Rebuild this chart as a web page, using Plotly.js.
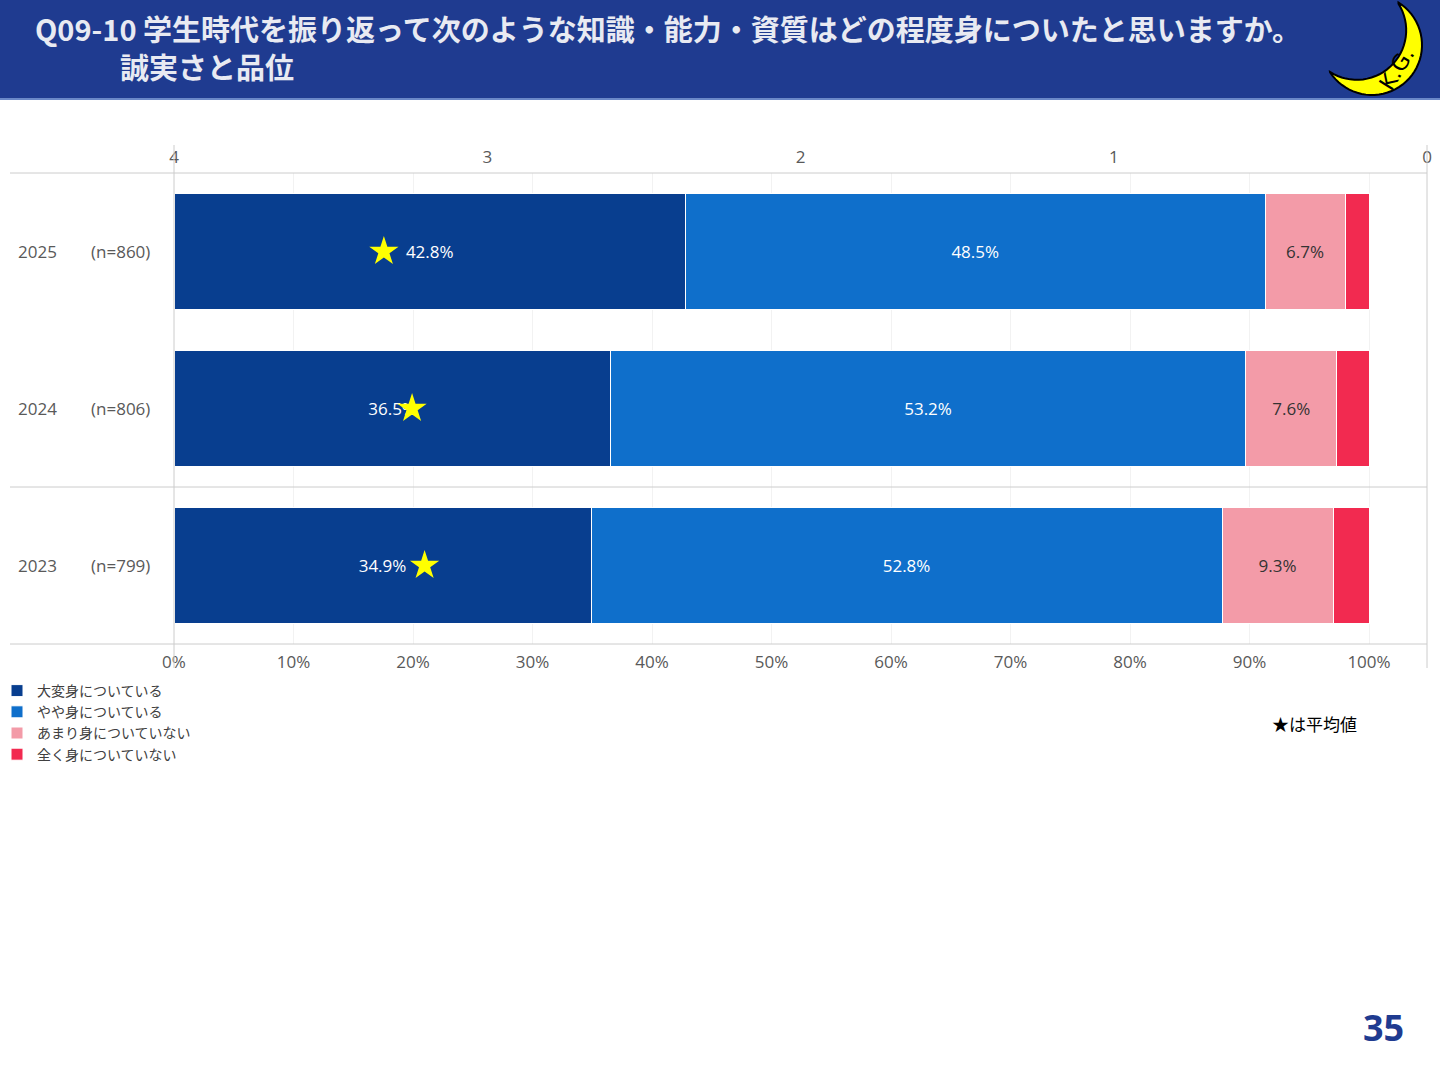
<!DOCTYPE html>
<html>
<head>
<meta charset="utf-8">
<script src="https://cdn.plot.ly/plotly-3.0.1.min.js"></script>
<style>
  html, body { margin: 0; padding: 0; background: #fff; }
  #chart { width: 1440px; height: 1080px; }
</style>
</head>
<body>
<div id="chart"></div>
<script>
// データ
const years = ['2025', '2024', '2023']
const sampleSizes = ['(n=860)', '(n=806)', '(n=799)']
const seriesNames = ['大変身についている', 'やや身についている', 'あまり身についていない', '全く身についていない']
const veryMuch = [42.8, 36.5, 34.9]
const somewhat = [48.5, 53.2, 52.8]
const notMuch = [6.7, 7.6, 9.3]
const notAtAll = [2.0, 2.7, 3.0]
const averages = [3.33, 3.24, 3.20]
const percentTicks = [0, 10, 20, 30, 40, 50, 60, 70, 80, 90, 100]
const percentLabels = percentTicks.map(v => v + '%')
const scoreTicks = [0, 1, 2, 3, 4]

const colors = ['#083e8f', '#0f6fcb', '#f39ba8', '#f22a50']
const textColors = ['#ffffff', '#ffffff', '#333333', '#ffffff']

// plot area in pixels (used only for decoration placement)
const plotL = 174, plotR = 1427, plotT = 173, plotB = 644
const px = x => (x - plotL) / (plotR - plotL)
const py = y => (plotB - y) / (plotB - plotT)

const fontFamily = 'Open Sans, Noto Sans CJK JP, sans-serif'
const jpFont = 'Noto Sans CJK JP, sans-serif'

let seriesValues = [veryMuch, somewhat, notMuch, notAtAll]

let traces = seriesValues.map((values, i) => ({
  type: 'bar',
  orientation: 'h',
  name: seriesNames[i],
  y: years,
  x: values,
  text: i < 3 ? values.map(v => v.toFixed(1) + '%') : values.map(() => ''),
  textposition: 'inside',
  insidetextanchor: 'middle',
  textangle: 0,
  constraintext: 'none',
  textfont: { color: textColors[i], size: 17, family: fontFamily },
  marker: { color: colors[i], line: { color: '#ffffff', width: 1 } },
  hoverinfo: 'skip'
}))

// 平均値の★
traces.push({
  type: 'scatter',
  mode: 'markers',
  x: averages,
  y: years,
  xaxis: 'x2',
  yaxis: 'y',
  marker: { symbol: 'star', size: 22, color: '#ffff00' },
  showlegend: false,
  hoverinfo: 'skip'
})

// 月のロゴ
function moonPath() {
  let pts = []
  for (let a = -58; a <= 147; a += 5) {
    let r = a * Math.PI / 180
    pts.push([1372 + 50 * Math.cos(r), 45 + 50 * Math.sin(r)])
  }
  for (let a = 122.6; a >= -33.5; a -= 5) {
    let r = a * Math.PI / 180
    pts.push([1356.7 + 49.5 * Math.cos(r), 30.3 + 49.5 * Math.sin(r)])
  }
  return pts.map((p, i) => (i === 0 ? 'M' : 'L') + px(p[0]).toFixed(5) + ',' + py(p[1]).toFixed(5)).join(' ') + ' Z'
}

let lineStyle = { color: '#cccccc', width: 1 }

let shapes = [
  // header band
  { type: 'rect', xref: 'paper', yref: 'paper', x0: px(0), x1: px(1440), y0: py(98), y1: py(0),
    fillcolor: '#1f3b90', line: { width: 0 }, layer: 'below' },
  { type: 'line', xref: 'paper', yref: 'paper', x0: px(0), x1: px(1440), y0: py(99), y1: py(99),
    line: { color: '#6a88c8', width: 2 } },
  { type: 'path', xref: 'paper', yref: 'paper', path: moonPath(),
    fillcolor: '#ffff00', line: { color: '#000000', width: 2 } },
  // table lines
  { type: 'line', xref: 'paper', yref: 'paper', x0: px(10), x1: 1, y0: 1, y1: 1, line: lineStyle },
  { type: 'line', xref: 'paper', yref: 'paper', x0: px(10), x1: 1, y0: 0, y1: 0, line: lineStyle },
  { type: 'line', xref: 'paper', yref: 'y', x0: px(10), x1: 1, y0: 1.5, y1: 1.5, line: lineStyle },
  { type: 'line', xref: 'paper', yref: 'paper', x0: 0, x1: 0, y0: py(668), y1: py(145), line: lineStyle },
  { type: 'line', xref: 'paper', yref: 'paper', x0: 1, x1: 1, y0: py(668), y1: py(145), line: lineStyle }
]

let annotations = [
  { xref: 'paper', yref: 'paper', x: px(33), y: py(28), xanchor: 'left', yanchor: 'middle', showarrow: false,
    text: '<b>Q09-10 学生時代を振り返って次のような知識・能力・資質はどの程度身についたと思いますか。</b>',
    font: { family: jpFont, size: 29, color: '#e8eaf2' } },
  { xref: 'paper', yref: 'paper', x: px(118), y: py(66), xanchor: 'left', yanchor: 'middle', showarrow: false,
    text: '<b>誠実さと品位</b>',
    font: { family: jpFont, size: 29, color: '#e8eaf2' } },
  { xref: 'paper', yref: 'paper', x: px(1396), y: py(69), xanchor: 'center', yanchor: 'middle', showarrow: false,
    text: 'K.G.', textangle: -58,
    font: { family: 'DejaVu Sans, sans-serif', size: 22, color: '#000000' } },
  { xref: 'paper', yref: 'paper', x: px(1314), y: py(723), xanchor: 'center', yanchor: 'middle', showarrow: false,
    text: '★は平均値', font: { family: jpFont, size: 17, color: '#000000' } },
  { xref: 'paper', yref: 'paper', x: px(1383), y: py(1027), xanchor: 'center', yanchor: 'middle', showarrow: false,
    text: '<b>35</b>', font: { family: fontFamily, size: 36, color: '#1f3b90' } }
]

years.forEach((year, i) => {
  annotations.push({ xref: 'paper', yref: 'y', x: px(16), y: i, xanchor: 'left', yanchor: 'middle',
    showarrow: false, text: year, font: { family: fontFamily, size: 17, color: '#595959' } })
  annotations.push({ xref: 'paper', yref: 'y', x: px(89), y: i, xanchor: 'left', yanchor: 'middle',
    showarrow: false, text: sampleSizes[i], font: { family: fontFamily, size: 17, color: '#595959' } })
})

let layout = {
  width: 1440,
  height: 1080,
  margin: { l: plotL, r: 1440 - plotR, t: plotT, b: 1080 - plotB, pad: 0, autoexpand: false },
  paper_bgcolor: '#ffffff',
  plot_bgcolor: '#ffffff',
  barmode: 'stack',
  bargap: 0.255,
  showlegend: true,
  legend: {
    orientation: 'v',
    traceorder: 'normal',
    x: px(-3),
    xanchor: 'left',
    y: py(675),
    yanchor: 'top',
    font: { family: jpFont, size: 14, color: '#404040' },
    bgcolor: 'rgba(0,0,0,0)'
  },
  xaxis: {
    range: [0, 100 * (plotR - plotL) / (1369 - plotL)],
    tickvals: percentTicks,
    ticktext: percentLabels,
    showgrid: true,
    gridcolor: '#f2f2f2',
    zeroline: false,
    showline: false,
    ticks: '',
    ticklabelstandoff: 6,
    tickfont: { family: fontFamily, size: 17, color: '#595959' },
    fixedrange: true
  },
  xaxis2: {
    overlaying: 'x',
    side: 'top',
    anchor: 'y',
    range: [4, 0],
    tickvals: scoreTicks,
    showgrid: false,
    zeroline: false,
    showline: false,
    ticks: '',
    ticklabelstandoff: 6,
    tickfont: { family: fontFamily, size: 17, color: '#595959' },
    fixedrange: true
  },
  yaxis: {
    type: 'category',
    range: [2.5, -0.5],
    showticklabels: false,
    showgrid: false,
    zeroline: false,
    showline: false,
    ticks: '',
    fixedrange: true
  },
  shapes: shapes,
  annotations: annotations
}

Plotly.newPlot('chart', traces, layout, { displayModeBar: false, staticPlot: true })
</script>
</body>
</html>
